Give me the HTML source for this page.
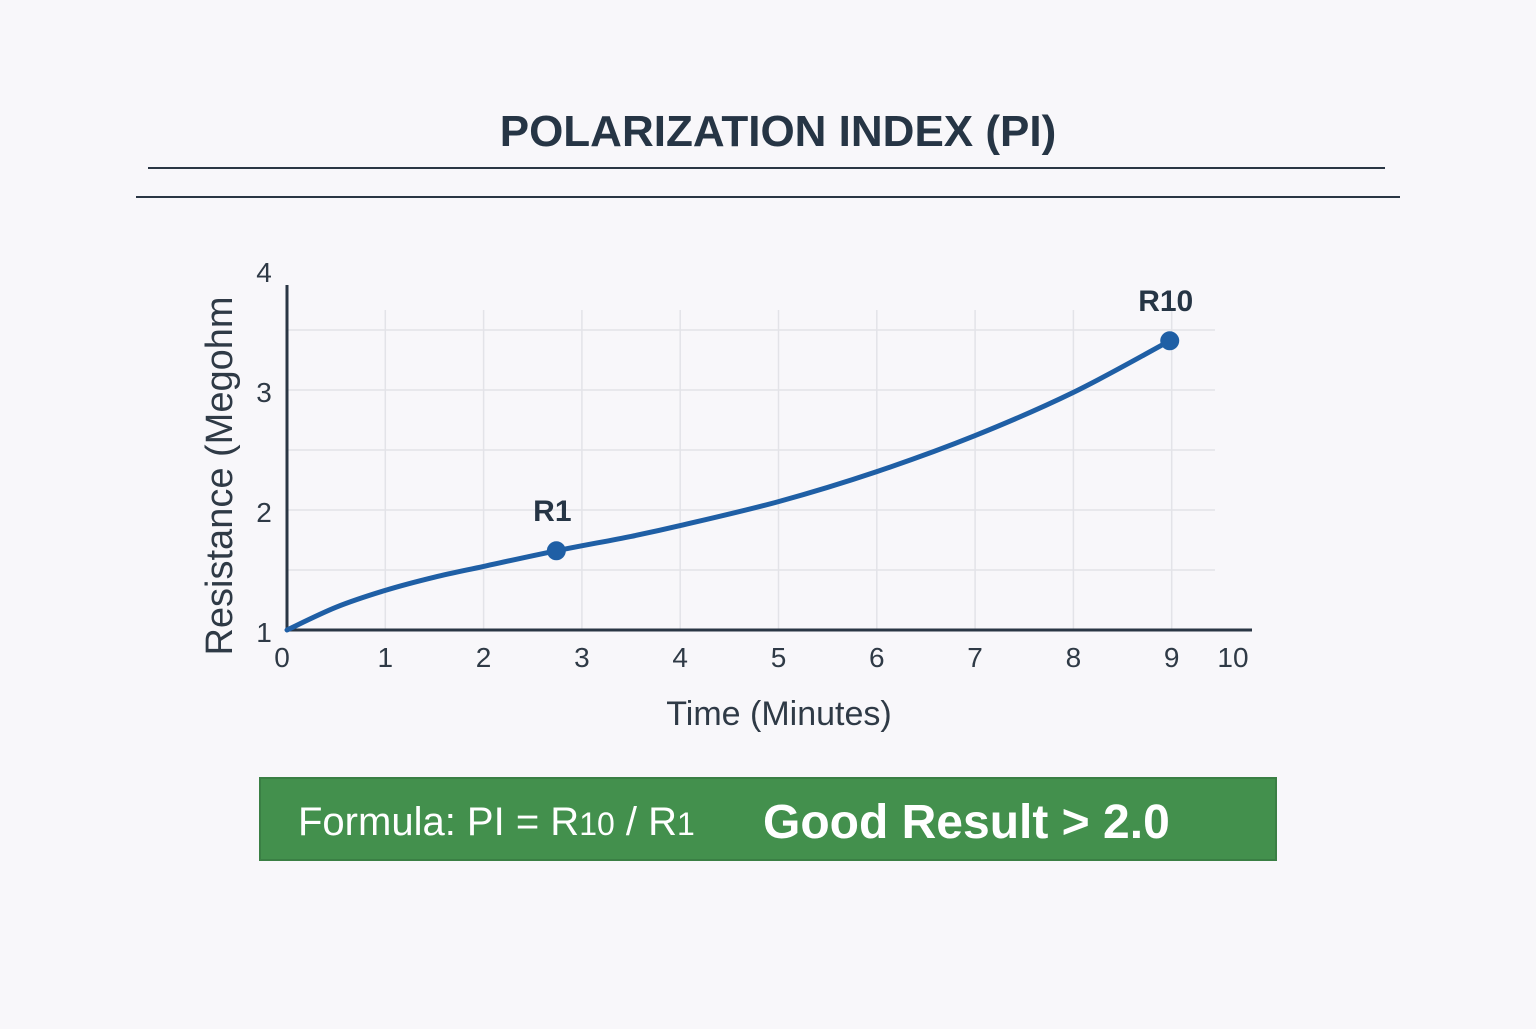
<!DOCTYPE html>
<html><head><meta charset="utf-8"><style>
html,body{margin:0;padding:0;background:#f8f7fa;}
body{width:1536px;height:1024px;position:relative;overflow:hidden;font-family:"Liberation Sans",sans-serif;}
</style></head><body>
<svg width="1536" height="1024" viewBox="0 0 1536 1024" xmlns="http://www.w3.org/2000/svg">
<text x="778" y="146" text-anchor="middle" font-size="44" font-weight="bold" fill="#263545">POLARIZATION INDEX (PI)</text>
<line x1="148" y1="168" x2="1385" y2="168" stroke="#2a3644" stroke-width="2"/>
<line x1="136" y1="197" x2="1400" y2="197" stroke="#2a3644" stroke-width="2"/>
<g id="grid"></g>
<g id="axes"></g>
<g id="series"></g>
<text transform="translate(232,476) rotate(-90)" text-anchor="middle" font-size="38" fill="#2f3a46">Resistance (Megohm</text>
<text x="779" y="725" text-anchor="middle" font-size="34" fill="#2f3a46">Time (Minutes)</text>
<rect x="260" y="778" width="1016" height="82" fill="#43904d" stroke="#3a7f44" stroke-width="2"/>
<text x="298" y="835" font-size="40" fill="#ffffff">Formula: PI = R<tspan font-size="32">10</tspan> / R<tspan font-size="32">1</tspan></text>
<text x="763" y="838" font-size="48" font-weight="bold" fill="#ffffff">Good Result &gt; 2.0</text>
</svg>
<script>
const xTicks=[0,1,2,3,4,5,6,7,8,9,10];
const yTicks=[1,2,3,4];
const yGrid=[1.5,2,2.5,3,3.5];
const times=[0,0.5,1,1.5,2,2.74,3.5,4,5,6,7,8,8.98];
const resistance=[1,1.19,1.33,1.44,1.53,1.66,1.78,1.87,2.07,2.32,2.62,2.98,3.41];
const markers=[{t:2.74,v:1.66,label:"R1"},{t:8.98,v:3.41,label:"R10"}];
const X=t=>287+98.3*t, Y=v=>630-120*(v-1);
const NS="http://www.w3.org/2000/svg";
function mk(tag,attrs,parent){const e=document.createElementNS(NS,tag);for(const k in attrs)e.setAttribute(k,attrs[k]);parent.appendChild(e);return e;}
const grid=document.getElementById('grid'),axes=document.getElementById('axes'),series=document.getElementById('series');
xTicks.slice(1,10).forEach(t=>{const l=mk('line',{x1:X(t),y1:310,x2:X(t),y2:630,stroke:'#e3e3e8','stroke-width':1.5},grid);

});
yGrid.forEach(v=>{const l=mk('line',{x1:287,y1:Y(v),x2:1215,y2:Y(v),stroke:'#e3e3e8','stroke-width':1.5},grid);

});
const ya=mk('line',{x1:287,y1:285,x2:287,y2:631,stroke:'#2a3644','stroke-width':3},axes);


const xa=mk('line',{x1:286,y1:630,x2:1252,y2:630,stroke:'#2a3644','stroke-width':3},axes);


xTicks.forEach(t=>{const x=t===10?1233:(t===0?282:X(t));const e=mk('text',{x:x,y:667,'text-anchor':'middle','font-size':28,fill:'#2f3a46'},axes);e.textContent=t;

});
yTicks.forEach(v=>{const e=mk('text',{x:264,y:Y(v)+12,'text-anchor':'middle','font-size':28,fill:'#2f3a46'},axes);e.textContent=v;

});
let d='';const pts=times.map((t,i)=>[X(t),Y(resistance[i])]);
d='M'+pts[0][0]+','+pts[0][1];
for(let i=0;i<pts.length-1;i++){const p0=pts[i-1]||pts[i],p1=pts[i],p2=pts[i+1],p3=pts[i+2]||p2;
d+=` C${p1[0]+(p2[0]-p0[0])/6},${p1[1]+(p2[1]-p0[1])/6} ${p2[0]-(p3[0]-p1[0])/6},${p2[1]-(p3[1]-p1[1])/6} ${p2[0]},${p2[1]}`;}
const path=mk('path',{d:d,fill:'none',stroke:'#1f5fa5','stroke-width':5,'stroke-linecap':'round'},series);


markers.forEach(m=>{const c=mk('circle',{cx:X(m.t),cy:Y(m.v),r:9.5,fill:'#1f5fa5'},series);


const t=mk('text',{x:X(m.t)-4,y:Y(m.v)-30,'text-anchor':'middle','font-size':30,'font-weight':'bold',fill:'#263545'},series);t.textContent=m.label;

});
</script>
</body></html>
